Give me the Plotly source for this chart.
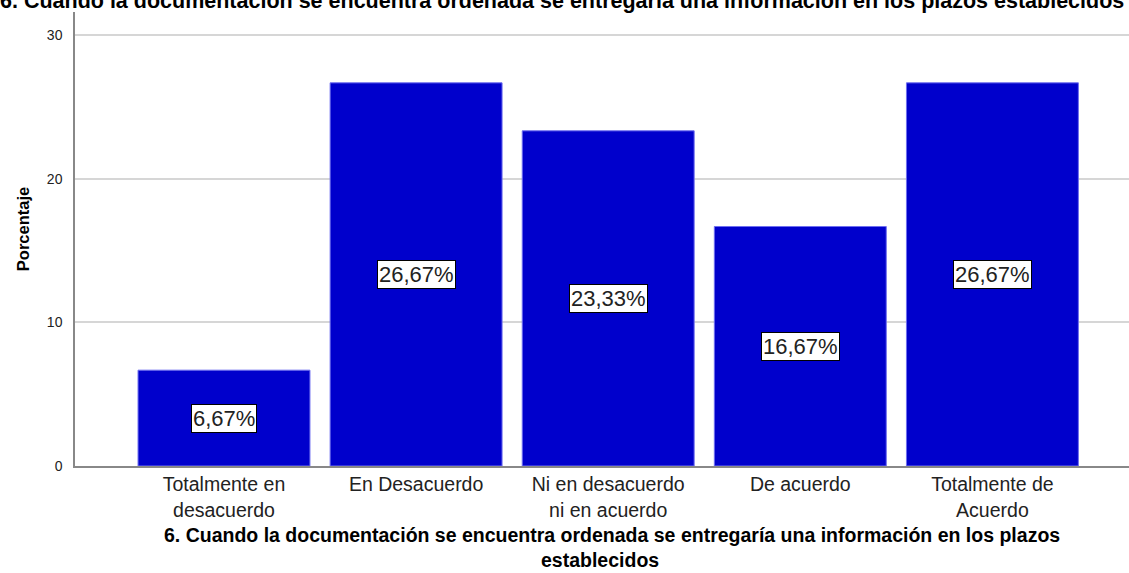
import plotly.graph_objects as go

# Survey item 6: share of responses per agreement level
categorias = [
    "Totalmente en<br>desacuerdo",
    "En Desacuerdo",
    "Ni en desacuerdo<br>ni en acuerdo",
    "De acuerdo",
    "Totalmente de<br>Acuerdo",
]
porcentajes = [6.67, 26.67, 23.33, 16.67, 26.67]
etiquetas = ["6,67%", "26,67%", "23,33%", "16,67%", "26,67%"]
y_ticks = [0, 10, 20, 30]

pregunta = ("6. Cuando la documentación se encuentra ordenada se entregaría "
            "una información en los plazos establecidos")
# axis title, wrapped onto two lines
pregunta_eje = [
    "6. Cuando la documentación se encuentra ordenada se entregaría "
    "una información en los plazos",
    "establecidos",
]

FONT = "Liberation Sans, Arial, sans-serif"
x_pos = list(range(len(categorias)))

fig = go.Figure()
fig.add_trace(go.Bar(
    x=x_pos,
    y=porcentajes,
    width=0.895,
    marker=dict(color="#0000CC", line=dict(color="#6E6EF0", width=1)),
    hoverinfo="skip",
))

# value labels in white boxes at mid-height of each bar
for xi, v, t in zip(x_pos, porcentajes, etiquetas):
    fig.add_annotation(
        x=xi, y=v / 2, text=t, showarrow=False,
        font=dict(family=FONT, size=22, color="#222222"),
        bgcolor="white", bordercolor="black", borderwidth=1, borderpad=1,
    )

# chart title (sits partly above the visible page)
fig.add_annotation(
    xref="paper", yref="paper", x=0.462, y=1.0253, yanchor="middle",
    text=pregunta, showarrow=False,
    font=dict(family=FONT, size=21.5, color="black", weight="bold"),
)

# x-axis title, one annotation per line for tight line spacing
for linea, xc, dy in zip(pregunta_eje, [0.5095, 0.498], [-69, -94]):
    fig.add_annotation(
        xref="paper", yref="paper", x=xc, y=0, yanchor="middle", yshift=dy,
        text=linea, showarrow=False,
        font=dict(family=FONT, size=19.5, color="black", weight="bold"),
    )

# y-axis title
fig.add_annotation(
    xref="paper", yref="paper", x=-0.0493, y=0.5217, textangle=-90,
    xanchor="center", yanchor="middle",
    text="Porcentaje", showarrow=False,
    font=dict(family=FONT, size=16.5, color="black", weight="bold"),
)

fig.update_layout(
    width=1129, height=573,
    margin=dict(l=75, r=0, t=12, b=107),
    plot_bgcolor="white", paper_bgcolor="white",
    showlegend=False,
    font=dict(family=FONT, color="#222222"),
    xaxis=dict(
        tickmode="array", tickvals=x_pos, ticktext=categorias,
        range=[-0.7756, 4.711], automargin=False,
        showgrid=False, zeroline=False,
        showline=True, linecolor="#888888", linewidth=1.5,
        ticks="", tickfont=dict(family=FONT, size=19.5, color="#222222"),
    ),
    yaxis=dict(
        range=[0, 31.6], tickmode="array", tickvals=y_ticks, automargin=False,
        showgrid=True, gridcolor="#D6D6D6", gridwidth=1.5,
        zeroline=False,
        showline=True, linecolor="#888888", linewidth=1.5,
        ticks="", ticklabelstandoff=8,
        tickfont=dict(family=FONT, size=14, color="#222222"),
    ),
)

fig.write_html("out.html")
